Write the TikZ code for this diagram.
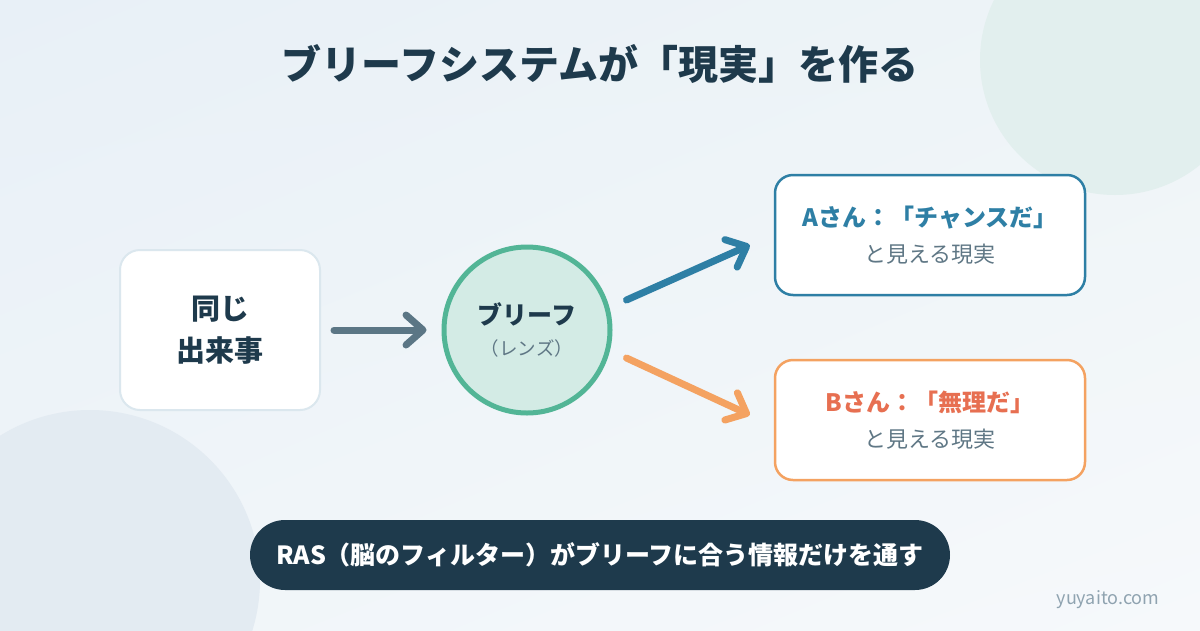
\documentclass[tikz,border=0pt]{standalone}
\usepackage{fontspec}
\setmainfont{Noto Sans CJK JP}
\usetikzlibrary{positioning,arrows.meta,shadings}
\definecolor{ink}{HTML}{1E3A4C}
\definecolor{slate}{HTML}{5B7685}
\definecolor{sub}{HTML}{5F7785}
\definecolor{teal}{HTML}{52B596}
\definecolor{tealbg}{HTML}{D3EBE5}
\definecolor{blueA}{HTML}{2E7FA5}
\definecolor{orangeB}{HTML}{F4A261}
\definecolor{redB}{HTML}{E76F51}
\definecolor{edge}{HTML}{DBE7EE}
\definecolor{bgUL}{HTML}{E8F0F7}
\definecolor{bgUR}{HTML}{EEF4F7}
\definecolor{bgLL}{HTML}{F0F5F9}
\definecolor{bgLR}{HTML}{F6F9FB}
\definecolor{blobT}{HTML}{E2EFEE}
\definecolor{blobB}{HTML}{E3EBF2}
\definecolor{site}{HTML}{8FA3B0}
\newcommand{\fs}[1]{\fontsize{#1}{#1}\selectfont}

\begin{document}
\begin{tikzpicture}[x=1pt,y=-1pt,
  card/.style={draw,fill=white,rounded corners=18pt,line width=2.5pt,
    minimum width=310pt,minimum height=120pt,align=center},
  arr/.style={line width=7pt,line cap=round,
    -{Straight Barb[length=17pt,width=30pt,round]}}]
% Background
\useasboundingbox (0,0) rectangle (1200,630);
\clip (0,0) rectangle (1200,630);
\shade[upper left=bgUL,upper right=bgUR,lower left=bgLL,lower right=bgLR]
  (0,0) rectangle (1200,630);
\fill[blobT] (1115,60) circle (135pt);
\fill[blobB] (90,580) circle (170pt);
% Title
\node[text=ink,font=\fs{40}\bfseries] (title) at (600,64) {ブリーフシステムが「現実」を作る};
% Flow nodes
\node[draw=edge,fill=white,line width=2pt,rounded corners=20pt,minimum width=200pt,
  minimum height=160pt,align=center,text=ink,font=\fontsize{29}{42}\selectfont\bfseries]
  (event) at (220,330) {同じ\\出来事};
\node[circle,draw=teal,fill=tealbg,line width=5pt,minimum size=166pt,align=center]
  (lens) at (527,330) {{\fs{25}\bfseries\color{ink}ブリーフ}\\[12pt]{\fs{18.5}\color{sub}（レンズ）}};
\node[card,draw=blueA] (ra) at (930,235)
  {{\fs{24}\bfseries\color{blueA}Aさん：「チャンスだ」}\\[14pt]{\fs{22}\color{sub}と見える現実}};
\node[card,draw=orangeB] (rb) at (930,420)
  {{\fs{24}\bfseries\color{redB}Bさん：「無理だ」}\\[14pt]{\fs{22}\color{sub}と見える現実}};
% Arrows
\coordinate (a1) at ([shift={(14,-30)}]lens.east);
\coordinate (a2) at ([shift={(-24,10)}]ra.west);
\coordinate (b1) at ([shift={(14,28)}]lens.east);
\coordinate (b2) at ([shift={(-24,-5)}]rb.west);
\draw[arr,slate,shorten <=13pt,shorten >=15pt] (event) -- (lens);
\draw[arr,blueA] (a1) -- (a2);
\draw[arr,orangeB] (b1) -- (b2);
% RAS bar
\node[fill=ink,rounded corners=35pt,minimum width=700pt,minimum height=70pt,
  text=white,font=\fs{25}\bfseries] (ras) at (600,555)
  {RAS（脳のフィルター）がブリーフに合う情報だけを通す};
\node[text=site,font=\fs{18}] (url) at (1108,600) {yuyaito.com};
\end{tikzpicture}
\end{document}
